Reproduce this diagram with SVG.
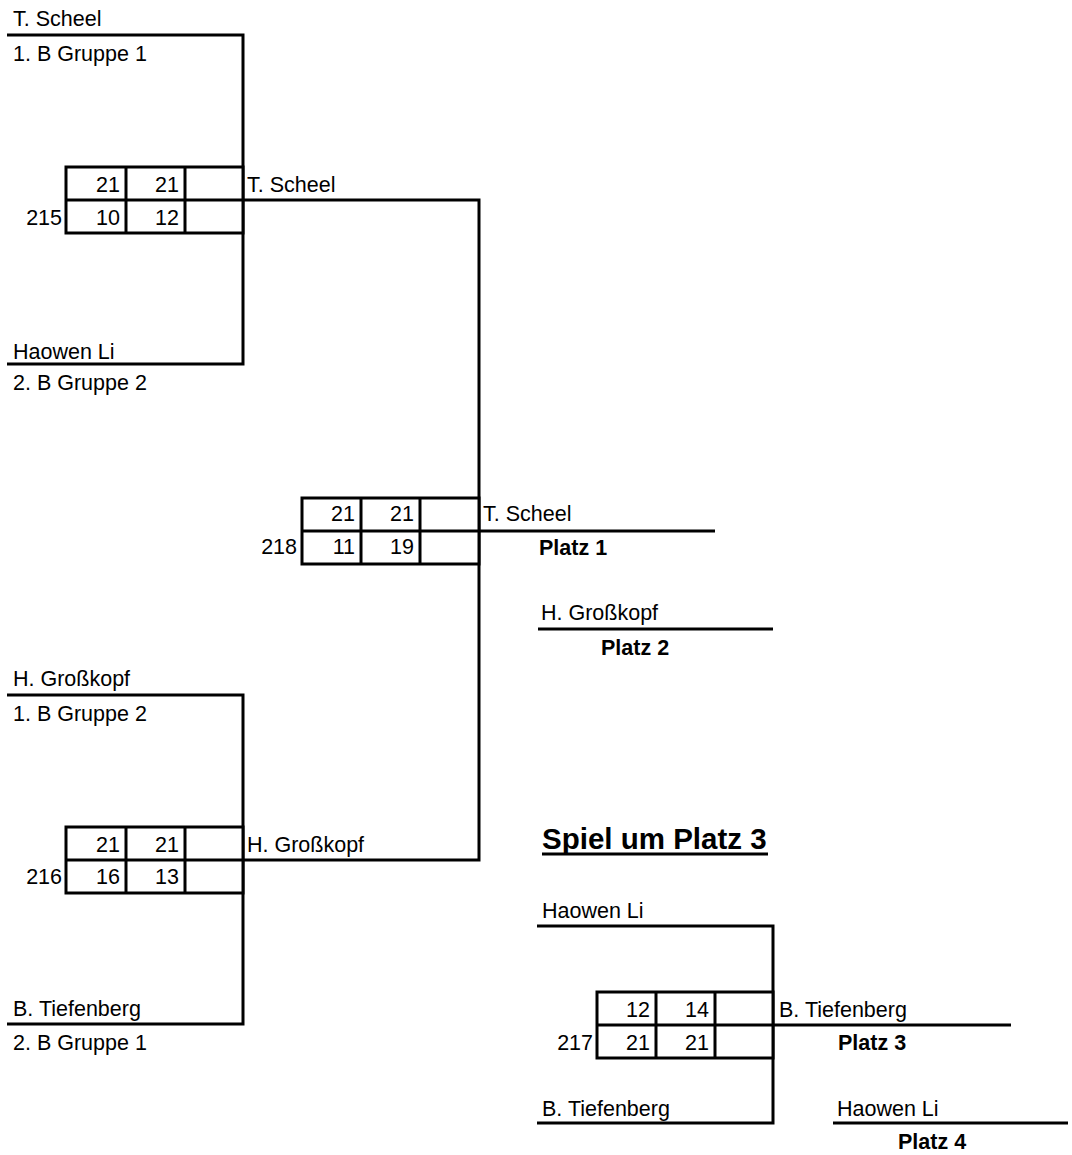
<svg xmlns="http://www.w3.org/2000/svg" width="1072" height="1155" viewBox="0 0 1072 1155">
<style>
text{font-family:"Liberation Sans",Arial,sans-serif;font-size:21.5px;fill:#000}
.b{font-weight:bold}
.e{text-anchor:end}
.ln{stroke:#000;stroke-width:3;fill:none}
.box{stroke:#000;stroke-width:3;fill:#fff}
.title{font-size:29.5px;font-weight:bold}
</style>
<rect width="1072" height="1155" fill="#fff"/>
<g id="connectors">
<path class="ln" d="M7 35H243V364H7"/>
<path class="ln" d="M243 200H479V860H243"/>
<path class="ln" d="M479 531H715"/>
<path class="ln" d="M538 629H773"/>
<path class="ln" d="M7 695H243V1024H7"/>
<path class="ln" d="M537 926H773V1123H537"/>
<path class="ln" d="M773 1025H1011"/>
<path class="ln" d="M833 1123H1068"/>
</g>
<g id="player-t-scheel">
<text x="13" y="26">T. Scheel</text>
<text x="13" y="61">1. B Gruppe 1</text>
</g>
<g id="player-haowen-li">
<text x="13" y="359">Haowen Li</text>
<text x="13" y="390">2. B Gruppe 2</text>
</g>
<g id="player-h-grosskopf">
<text x="13" y="686">H. Großkopf</text>
<text x="13" y="721">1. B Gruppe 2</text>
</g>
<g id="player-b-tiefenberg">
<text x="13" y="1016">B. Tiefenberg</text>
<text x="13" y="1050">2. B Gruppe 1</text>
</g>
<g id="match-215">
<rect class="box" x="66" y="167" width="177" height="66"/>
<path class="ln" d="M66 200H243M126 167V233M185 167V233"/>
<text class="e" x="62" y="225">215</text>
<text class="e" x="120" y="192">21</text>
<text class="e" x="179" y="192">21</text>
<text class="e" x="120" y="225">10</text>
<text class="e" x="179" y="225">12</text>
<text x="247" y="192">T. Scheel</text>
</g>
<g id="match-216">
<rect class="box" x="66" y="827" width="177" height="66"/>
<path class="ln" d="M66 860H243M126 827V893M185 827V893"/>
<text class="e" x="62" y="884">216</text>
<text class="e" x="120" y="852">21</text>
<text class="e" x="179" y="852">21</text>
<text class="e" x="120" y="884">16</text>
<text class="e" x="179" y="884">13</text>
<text x="247" y="852">H. Großkopf</text>
</g>
<g id="match-218">
<rect class="box" x="302" y="498" width="177" height="66"/>
<path class="ln" d="M302 531H479M361 498V564M420 498V564"/>
<text class="e" x="297" y="554">218</text>
<text class="e" x="355" y="521">21</text>
<text class="e" x="414" y="521">21</text>
<text class="e" x="355" y="554">11</text>
<text class="e" x="414" y="554">19</text>
<text x="483" y="521">T. Scheel</text>
<text class="b" x="539" y="555">Platz 1</text>
</g>
<g id="platz-2">
<text x="541" y="620">H. Großkopf</text>
<text class="b" x="601" y="655">Platz 2</text>
</g>
<g id="title-platz-3">
<text class="title" x="542" y="849">Spiel um Platz 3</text>
<rect x="542" y="852.5" width="226" height="3" fill="#000"/>
</g>
<g id="match-217">
<text x="542" y="918">Haowen Li</text>
<rect class="box" x="597" y="992" width="176" height="66"/>
<path class="ln" d="M597 1025H773M656 992V1058M715 992V1058"/>
<text class="e" x="593" y="1050">217</text>
<text class="e" x="650" y="1017">12</text>
<text class="e" x="709" y="1017">14</text>
<text class="e" x="650" y="1050">21</text>
<text class="e" x="709" y="1050">21</text>
<text x="779" y="1017">B. Tiefenberg</text>
<text class="b" x="838" y="1050">Platz 3</text>
<text x="542" y="1116">B. Tiefenberg</text>
</g>
<g id="platz-4">
<text x="837" y="1116">Haowen Li</text>
<text class="b" x="898" y="1149">Platz 4</text>
</g>
</svg>
